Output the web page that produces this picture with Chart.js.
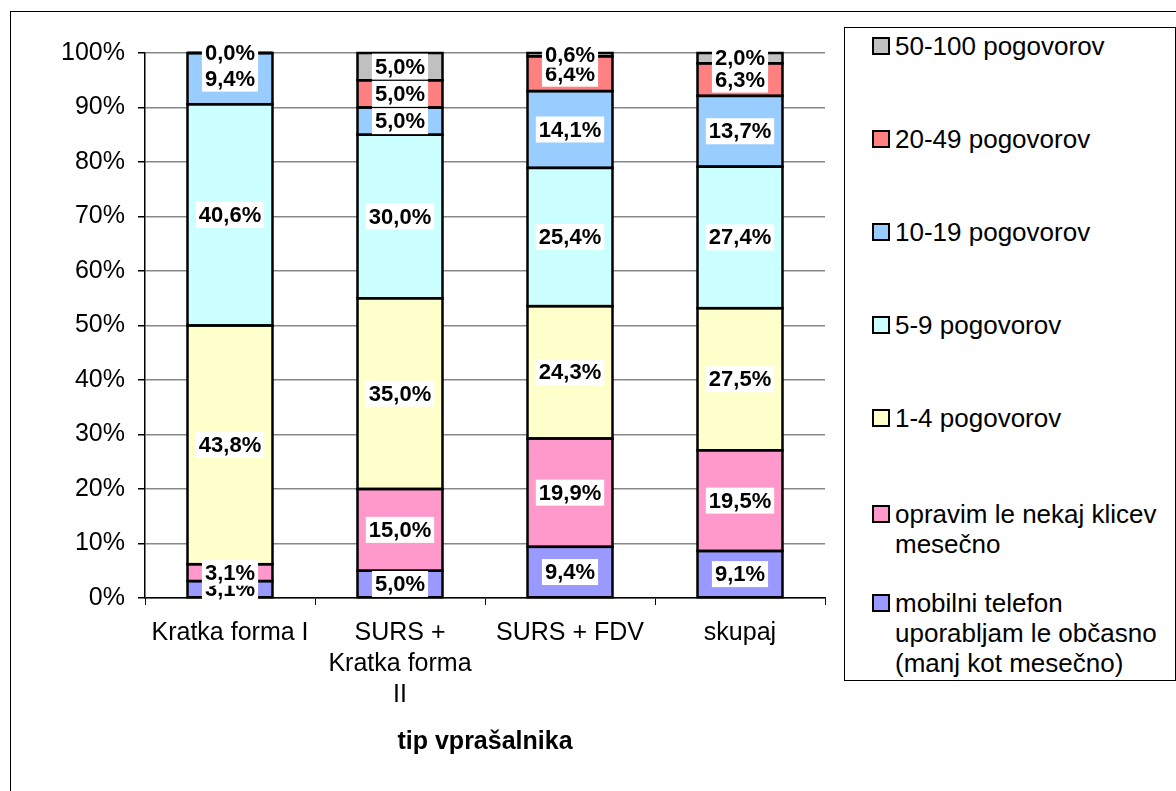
<!DOCTYPE html>
<html>
<head>
<meta charset="utf-8">
<script src="https://cdn.jsdelivr.net/npm/chart.js@4.4.0/dist/chart.umd.min.js"></script>
<style>
  body { margin: 0; background: #fff; overflow: hidden; font-family: 'Liberation Sans', Arial, sans-serif; }
  #frame { position: absolute; left: 10px; top: 11px; width: 1200px; height: 900px; border: 1px solid #000; }
  #myChart { position: absolute; left: 0; top: 0; }
  #legend { position: absolute; left: 844px; top: 27px; width: 330px; height: 652px; border: 1px solid #000; background: #fff; }
  .item { position: absolute; left: 50px; width: 275px; font-size: 26px; line-height: 30px; color: #000; }
  .item .box { position: absolute; left: -23px; top: 6px; width: 14px; height: 14px; border: 2px solid #000; }
</style>
</head>
<body>
<div id="frame"></div>
<canvas id="myChart" width="1176" height="791"></canvas>
<div id="legend"></div>
<script>
// kategorije (tip vprasalnika)
var categories = [['Kratka forma I'], ['SURS +', 'Kratka forma', 'II'], ['SURS + FDV'], ['skupaj']];

// vrednosti v % kot so napisane na stolpcih
var mobilni = [3.1, 5.0, 9.4, 9.1];
var opravim = [3.1, 15.0, 19.9, 19.5];
var pog_1_4 = [43.8, 35.0, 24.3, 27.5];
var pog_5_9 = [40.6, 30.0, 25.4, 27.4];
var pog_10_19 = [9.4, 5.0, 14.1, 13.7];
var pog_20_49 = [0.0, 5.0, 6.4, 6.3];
var pog_50_100 = [0.0, 5.0, 0.6, 2.0];

var y_ticks = [0, 10, 20, 30, 40, 50, 60, 70, 80, 90, 100];

var series = [
  { name: 'mobilni telefon uporabljam le občasno (manj kot mesečno)', data: mobilni, color: '#9999FF' },
  { name: 'opravim le nekaj klicev mesečno', data: opravim, color: '#FF99CC' },
  { name: '1-4 pogovorov', data: pog_1_4, color: '#FFFFCC' },
  { name: '5-9 pogovorov', data: pog_5_9, color: '#CCFFFF' },
  { name: '10-19 pogovorov', data: pog_10_19, color: '#99CCFF' },
  { name: '20-49 pogovorov', data: pog_20_49, color: '#FF8080' },
  { name: '50-100 pogovorov', data: pog_50_100, color: '#C0C0C0' }
];

// 100% stacked: delez vsakega dela v stolpcu
var totals = categories.map(function (c, i) {
  var s = 0;
  series.forEach(function (sr) { s += sr.data[i]; });
  return s;
});

const data = {
  labels: categories,
  datasets: series.map(function (sr) {
    return {
      label: sr.name,
      data: sr.data.map(function (v, i) { return v / totals[i] * 100; }),
      raw: sr.data,
      backgroundColor: sr.color,
      borderWidth: 0,
      barPercentage: 0.5,
      categoryPercentage: 1.0
    };
  })
};

// obrobe stolpcev + oznake vrednosti
const barLabels = {
  id: 'barLabels',
  afterDatasetsDraw: function (chart) {
    var ctx = chart.ctx;
    ctx.save();
    ctx.strokeStyle = '#000';
    ctx.lineWidth = 2.5;
    chart.data.datasets.forEach(function (ds, i) {
      chart.getDatasetMeta(i).data.forEach(function (bar) {
        var p = bar.getProps(['x', 'y', 'base', 'width'], true);
        ctx.strokeRect(p.x - p.width / 2, Math.min(p.y, p.base), p.width, Math.abs(p.base - p.y));
      });
    });
    ctx.font = 'bold 22px "Liberation Sans", Arial, sans-serif';
    ctx.textAlign = 'center';
    ctx.textBaseline = 'middle';
    chart.data.datasets.forEach(function (ds, i) {
      chart.getDatasetMeta(i).data.forEach(function (bar, j) {
        var p = bar.getProps(['x', 'y', 'base'], true);
        var txt = ds.raw[j].toFixed(1).replace('.', ',') + '%';
        var w = ctx.measureText(txt).width;
        var cy = (p.y + p.base) / 2;
        ctx.fillStyle = '#fff';
        ctx.fillRect(p.x - w / 2 - 3, cy - 13, w + 6, 26);
        ctx.fillStyle = '#000';
        ctx.fillText(txt, p.x, cy + 1);
      });
    });
    ctx.restore();
  }
};

const config = {
  type: 'bar',
  data: data,
  options: {
    responsive: false,
    animation: false,
    layout: { padding: { left: 0, top: 53, right: 351, bottom: 0 } },
    plugins: { legend: { display: false }, tooltip: { enabled: false } },
    scales: {
      x: {
        stacked: true,
        afterFit: function (s) { s.height = 193; },
        grid: { display: true, drawOnChartArea: false, drawTicks: true, tickLength: 7, tickColor: '#000', offset: true },
        border: { color: '#000', width: 1.5 },
        ticks: {
          color: '#000', padding: 13, maxRotation: 0, autoSkip: false,
          font: { family: '"Liberation Sans", Arial, sans-serif', size: 25, lineHeight: 1.24 }
        },
        title: {
          display: true, text: 'tip vprašalnika', color: '#000',
          font: { family: '"Liberation Sans", Arial, sans-serif', size: 25, weight: 'bold', lineHeight: 1.24 },
          padding: { top: 0, bottom: 33 }
        }
      },
      y: {
        stacked: true,
        min: 0,
        max: 100,
        afterFit: function (s) { s.width = 145; },
        afterBuildTicks: function (s) { s.ticks = y_ticks.map(function (v) { return { value: v }; }); },
        grid: { color: '#888', lineWidth: 1.5, tickLength: 7, tickColor: '#000' },
        border: { color: '#000', width: 1.5 },
        ticks: {
          color: '#000', padding: 13,
          font: { family: '"Liberation Sans", Arial, sans-serif', size: 25 },
          callback: function (v) { return v + '%'; }
        }
      }
    }
  },
  plugins: [barLabels]
};

const myChart = new Chart(document.getElementById('myChart'), config);

// legenda (obratni vrstni red)
var legend_tops = [3, 96, 189, 282, 375, 471, 560];
var legend = document.getElementById('legend');
series.slice().reverse().forEach(function (sr, k) {
  var it = document.createElement('div');
  it.className = 'item';
  it.style.top = legend_tops[k] + 'px';
  var b = document.createElement('span');
  b.className = 'box';
  b.style.background = sr.color;
  var t = document.createElement('div');
  t.textContent = sr.name;
  it.appendChild(b);
  it.appendChild(t);
  legend.appendChild(it);
});
</script>
</body>
</html>
